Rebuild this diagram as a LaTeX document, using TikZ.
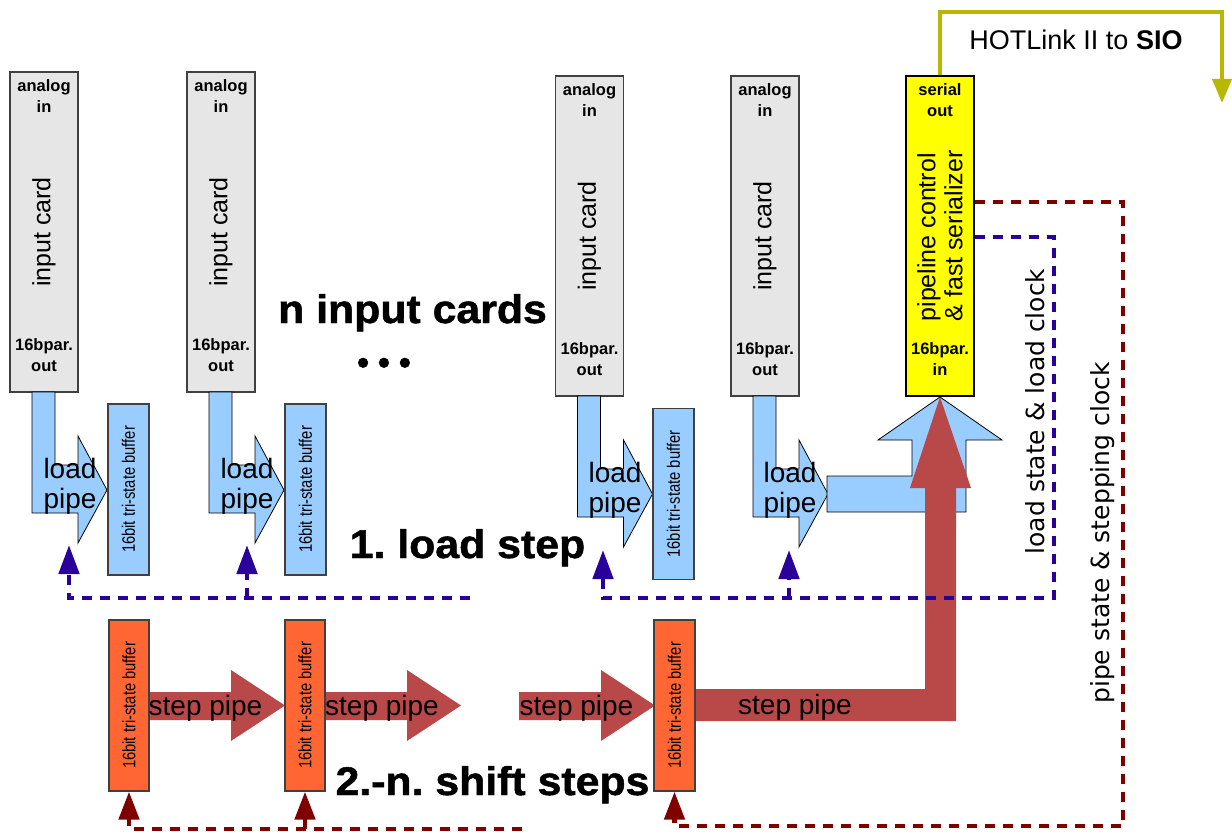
\documentclass[tikz,border=0pt]{standalone}
\usepackage{fontspec}
\usepackage{graphicx}
\setmainfont{Liberation Sans}
\newfontfamily\dejavu{DejaVu Sans}
\newfontfamily\heavyfont[BoldFeatures={FakeBold=1.2}]{Liberation Sans}
\usetikzlibrary{arrows.meta,calc}
\frenchspacing

\definecolor{cardgrey}{RGB}{230,230,230}
\definecolor{edgegrey}{RGB}{64,64,64}
\definecolor{pipeblue}{RGB}{153,204,255}
\definecolor{busorange}{RGB}{255,102,51}
\definecolor{pipered}{RGB}{185,72,72}
\definecolor{clkblue}{RGB}{42,0,154}
\definecolor{clkred}{RGB}{128,0,0}
\definecolor{linkolive}{RGB}{184,184,0}
\definecolor{serialyellow}{RGB}{255,255,0}

% narrow setting for the buffer captions
\newcommand\narrowtext[1]{\scalebox{0.82}[1]{#1}}
\newcommand\widetext[1]{\scalebox{1.07}[1]{#1}}

\begin{document}
\begin{tikzpicture}[x=1pt,y=-1pt,
  cardbox/.style={draw=edgegrey, line width=1.4pt, fill=cardgrey, rotate=90,
    minimum width=320pt, minimum height=68pt, inner sep=0pt,
    font=\fontsize{25}{27}\selectfont},
  serbox/.style={cardbox, fill=serialyellow, draw=black, align=left},
  bufbox/.style={draw=edgegrey, line width=1.2pt, rotate=90,
    minimum width=171pt, inner sep=0pt, font=\fontsize{18}{20}\selectfont},
  loadbuf/.style={bufbox, fill=pipeblue, minimum height=41pt},
  stepbuf/.style={bufbox, fill=busorange, minimum height=40pt},
  pinlbl/.style={font=\bfseries\fontsize{16.5}{20.5}\selectfont, align=center, inner sep=0pt},
  loadpipe/.style={draw=black, line width=0.8pt, fill=pipeblue},
  steppipe/.style={fill=pipered},
  pipelbl/.style={font=\fontsize{28}{30}\selectfont, align=center, inner sep=0pt},
  headline/.style={font=\heavyfont\bfseries\fontsize{40}{48}\selectfont, inner sep=0pt},
  clockline/.style={line width=4.7pt, dash pattern=on 10pt off 8pt},
  loadclk/.style={clockline, draw=clkblue, -{Triangle[length=29pt,width=20pt]}},
  stepclk/.style={clockline, draw=clkred, -{Triangle[length=28pt,width=20pt]}},
  sidelbl/.style={font=\dejavu\fontsize{25}{30}\selectfont, rotate=90, inner sep=0pt},
]
\useasboundingbox[fill=white] (0,0) rectangle (1232,832);

% ---- input cards with their load pipes
\foreach \n/\cx/\cy in {1/44/232, 2/221/232, 3/589.5/236, 4/765/236}{
  \node[cardbox] (card\n) at (\cx,\cy) {input card};
  \node[pinlbl] at ($(card\n.center)+(0,-136)$) {analog\\in};
  \node[pinlbl] at ($(card\n.center)+(0,123)$) {16bpar.\\out};
  \begin{scope}[shift={(\cx-44,\cy-232)}]
    \draw[loadpipe] (32,392) -- (55,392) -- (55,465) -- (78,465) -- (78,436)
      -- (107,490) -- (78,543) -- (78,513) -- (32,513) -- cycle;
  \end{scope}
}

% ---- pipeline controller
\node[serbox] (ser) at (940,236) {pipeline control\\\& fast serializer};
\node[pinlbl] at ($(ser.center)+(0,-136)$) {serial\\out};
\node[pinlbl] at ($(ser.center)+(0,123)$) {16bpar.\\in};

% ---- load buffers
\node[loadbuf] (buf1) at (128.5,489.5) {\narrowtext{16bit tri-state buffer}};
\node[loadbuf] (buf2) at (305.5,489.5) {\narrowtext{16bit tri-state buffer}};
\node[loadbuf] (buf3) at (673.5,494) {\narrowtext{16bit tri-state buffer}};

% ---- collecting load pipe into the controller
\draw[loadpipe] (827,476) -- (912,476) -- (912,440) -- (878,440) -- (940,397)
  -- (1002,440) -- (966,440) -- (966,512) -- (827,512) -- cycle;

% ---- main step pipe into the controller
\fill[pipered] (694,689) -- (925,689) -- (925,488) -- (910,488) -- (940,397)
  -- (971,488) -- (956,488) -- (956,721) -- (694,721) -- cycle;

% ---- step pipes between the shift buffers
\foreach \sx in {0,176,370}{
  \fill[pipered, shift={(\sx,0)}] (149,692) -- (231,692) -- (231,670) -- (285,705.5)
    -- (231,741) -- (231,720) -- (149,720) -- cycle;
}

% ---- shift buffers
\node[stepbuf] (obuf1) at (129,705.5) {\narrowtext{16bit tri-state buffer}};
\node[stepbuf] (obuf2) at (305,705.5) {\narrowtext{16bit tri-state buffer}};
\node[stepbuf, minimum height=41pt] (obuf3) at (674.5,705.5) {\narrowtext{16bit tri-state buffer}};

% ---- load clock lines
\coordinate (ldtip1) at (69,545);
\coordinate (ldtip2) at (247,545);
\coordinate (ldtip3) at (603,550);
\coordinate (ldtip4) at (789,550);
\coordinate (blueleft) at (470,598);
\coordinate (blueright) at (1054,598);
\draw[loadclk] (blueleft) -| (ldtip1);
\draw[loadclk] (ldtip2 |- blueleft) -- (ldtip2);
\draw[loadclk] ($(ser.south)+(0,1)$) -| (blueright) -| (ldtip3);
\draw[loadclk] (ldtip4 |- blueright) -- (ldtip4);

% ---- stepping clock lines
\coordinate (redleft) at (522,829);
\coordinate (redright) at (1123,826);
\draw[stepclk] ($(ser.south)+(0,-34)$) -| (redright) -| (obuf3.west);
\draw[stepclk] (redleft) -| (obuf1.west);
\draw[stepclk] (obuf2.west |- redleft) -- (obuf2.west);

% ---- serial link
\coordinate (siocorner) at (1222,12);
\coordinate (siotip) at (1222,103);
\draw[linkolive, line width=4pt, -{Triangle[length=24pt,width=19pt]}]
  (ser.east) |- (siocorner) -- (siotip);
\node[font=\fontsize{27}{30}\selectfont, inner sep=0pt] (siolbl) at (1076,40)
  {HOTLink II to \textbf{SIO}};

% ---- pipe captions
\node[pipelbl] at (70,486) {load\\pipe};
\node[pipelbl] at (247,486) {load\\pipe};
\node[pipelbl] at (615,490) {load\\pipe};
\node[pipelbl] at (790,490) {load\\pipe};
\node[pipelbl] at (205.5,708) {step pipe};
\node[pipelbl] at (382,708) {step pipe};
\node[pipelbl] at (576.5,708) {step pipe};
\node[pipelbl] at (795,707) {step pipe};

% ---- headings
\node[headline, anchor=base] (ncards) at (412.5,323) {\widetext{n input cards}};
\node[headline, anchor=base, font=\heavyfont\bfseries\fontsize{34}{40}\selectfont]
  (dots) at (384,374) {•\kern9pt•\kern9pt•};
\node[headline, anchor=base] (loadstep) at (467.5,558) {\widetext{1. load step}};
\node[headline, anchor=base] (shiftsteps) at (492.5,795) {\widetext{2.-n. shift steps}};

% ---- clock captions
\node[sidelbl] (ldlbl) at (1035,411.5) {load state \& load clock};
\node[sidelbl] (stlbl) at (1103,533) {pipe state \& stepping clock};
\end{tikzpicture}
\end{document}
